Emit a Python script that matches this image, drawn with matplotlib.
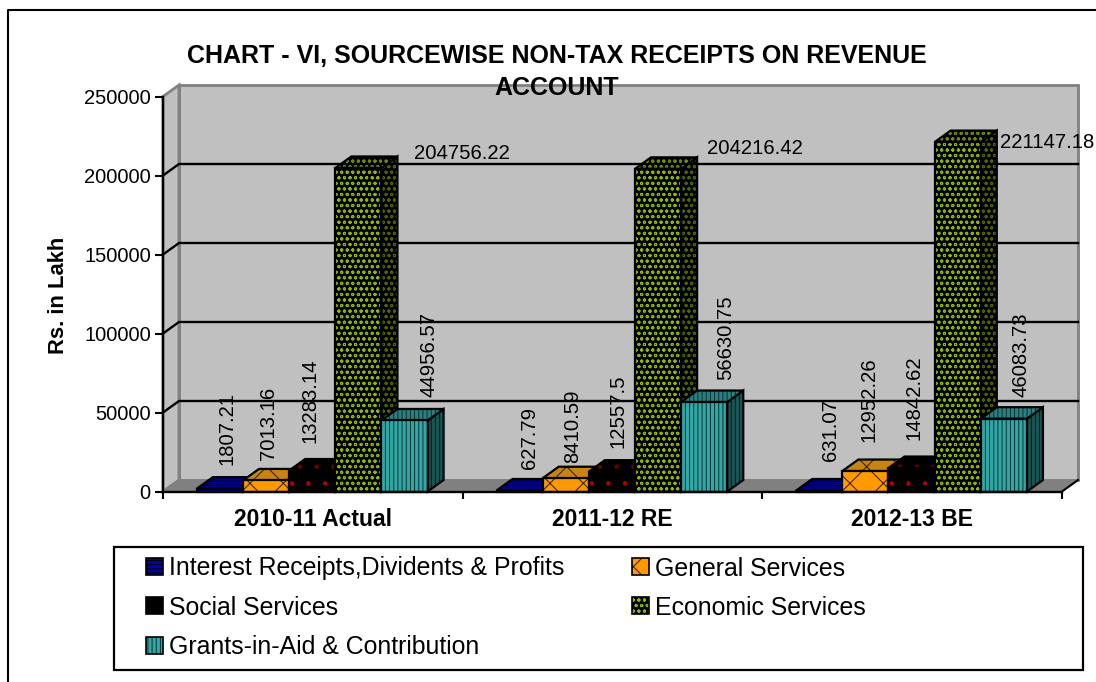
import matplotlib
matplotlib.use("Agg")
import matplotlib.pyplot as plt
from matplotlib.patches import Polygon, Patch, Rectangle
from matplotlib.legend_handler import HandlerTuple
from matplotlib.lines import Line2D

categories = ["2010-11 Actual", "2011-12 RE", "2012-13 BE"]
series_names = ["Interest Receipts,Dividents & Profits", "General Services",
                "Social Services", "Economic Services", "Grants-in-Aid & Contribution"]
interest = [1807.21, 627.79, 631.07]
general = [7013.16, 8410.59, 12952.26]
social = [13283.14, 12557.5, 14842.62]
economic = [204756.22, 204216.42, 221147.18]
grants = [44956.57, 56630.75, 46083.73]
label_text = [["1807.21", "627.79", "631.07"], ["7013.16", "8410.59", "12952.26"],
              ["13283.14", "12557.5", "14842.62"], ["204756.22", "204216.42", "221147.18"],
              ["44956.57", "56630.75", "46083.73"]]
yticks = [0, 50000, 100000, 150000, 200000, 250000]

W, H = 1096, 682
plt.rcParams["font.family"] = ["Liberation Sans", "DejaVu Sans"]
plt.rcParams["hatch.linewidth"] = 0.7
fig = plt.figure(figsize=(W / 100, H / 100), dpi=100)
L, R, T, B = 163, 1062, 96.5, 491.5
ax = fig.add_axes([L / W, 1 - B / H, (R - L) / W, (B - T) / H])
ax.set_xlim(0, 3)
ax.set_ylim(0, 250000)
ax.patch.set_visible(False)

dx = 16 / (R - L) * 3
dy = 11.5 / (B - T) * 250000
GRAY, WALL = "#808080", "#C0C0C0"

# outer frame
fig.add_artist(Line2D([7.5 / W, 7.5 / W, 1], [0, 1 - 9.5 / H, 1 - 9.5 / H], color="black", lw=1.5))

# walls and floor
ax.add_patch(Polygon([(dx, dy), (3 + dx, dy), (3 + dx, 250000 + dy), (dx, 250000 + dy)],
                     fc=WALL, ec=GRAY, lw=2, clip_on=False, zorder=1))
ax.add_patch(Polygon([(0, 0), (dx, dy), (dx, 250000 + dy), (0, 250000)],
                     fc=WALL, ec=GRAY, lw=2, clip_on=False, zorder=1))
ax.add_patch(Polygon([(0, 0), (dx, dy), (3 + dx, dy), (3, 0)],
                     fc=GRAY, ec=GRAY, lw=1, clip_on=False, zorder=1.1))
ax.plot([3, 3 + dx], [0, dy], color="black", lw=1.5, clip_on=False, zorder=1.2)
for v in yticks[1:-1]:
    ax.plot([0, dx, 3 + dx], [v, v + dy, v + dy], color="black", lw=1.7, clip_on=False, zorder=1.5,
            solid_joinstyle="miter")

# series: face, hatch colour, hatch, side face, side hatch colour, top face, top hatch colour
styles = [
    ("#0000B0", "black", "----", "#000060", "black", "#000080", "black"),
    ("#FF9900", "#301800", "x", "#B87000", "#301800", "#C88410", "#301800"),
    ("#000000", "#B00000", ".", "#000000", "#700000", "#000000", "#700000"),
    ("#000000", "#8FB800", "ooo", "#000000", "#4D6600", "#000000", "#6B8C00"),
    ("#33A6A6", "#0A3030", "||||", "#1A5555", "#051818", "#2A8080", "#0A3030"),
]
all_values = [interest, general, social, economic, grants]
BW, PAD = 0.154, 0.113


def face(pts, fc, hc, hatch, z):
    ax.add_patch(Polygon(pts, fc=fc, ec=hc, hatch=hatch, lw=0, clip_on=False, zorder=z))
    ax.add_patch(Polygon(pts, fc="none", ec="black", lw=1.6, clip_on=False, zorder=z + 0.01,
                         joinstyle="miter"))


z = 2
for c in range(len(categories)):
    for s, values in enumerate(all_values):
        fc, hc, hatch, sfc, shc, tfc, thc = styles[s]
        x0 = c + PAD + s * BW
        x1 = x0 + BW
        v = values[c]
        face([(x1, 0), (x1 + dx, dy), (x1 + dx, v + dy), (x1, v)], sfc, shc, hatch, z)
        face([(x0, v), (x1, v), (x1 + dx, v + dy), (x0 + dx, v + dy)], tfc, thc, hatch, z + 0.1)
        face([(x0, 0), (x1, 0), (x1, v), (x0, v)], fc, hc, hatch, z + 0.2)
        z += 0.5

# value labels: pixel offsets from the top centre of each bar
offsets = [[(7, 24), (10, 22), (11, 30)], [(2, 20), (7, 15), (4, 29)],
           [(-2, 28), (6, 24), (2, 28)], [(104, 14), (97, 20), (89, 0)],
           [(24, 23), (21, 22), (17, 22)]]
for s, values in enumerate(all_values):
    for c, v in enumerate(values):
        xc = c + PAD + (s + 0.5) * BW
        horiz = s == 3
        ax.annotate(label_text[s][c], (xc, v), xytext=offsets[s][c], textcoords="offset pixels",
                    ha="center", va="center" if horiz else "bottom",
                    rotation=0 if horiz else 90, fontsize=14.6, color="black",
                    zorder=30, annotation_clip=False)

# axes
for sp in ("top", "right"):
    ax.spines[sp].set_visible(False)
for sp in ("left", "bottom"):
    ax.spines[sp].set_linewidth(1.7)
    ax.spines[sp].set_zorder(20)
ax.set_yticks(yticks)
ax.set_yticklabels([str(v) for v in yticks])
ax.tick_params(axis="y", labelsize=14.5, length=5.8, width=1.5, pad=3)
ax.set_xticks(range(len(categories) + 1))
ax.set_xticklabels([])
ax.tick_params(axis="x", which="major", length=5, width=1.5)
ax.set_xticks([i + 0.5 for i in range(len(categories))], minor=True)
ax.set_xticklabels(categories, minor=True, fontsize=16.5, fontweight="bold")
ax.tick_params(axis="x", which="minor", length=0, pad=12)
fig.text(58 / W, 1 - 295 / H, "Rs. in Lakh", rotation=90, ha="center", va="center",
         fontsize=15.8, fontweight="bold")
fig.text(557 / W, 1 - 72 / H, "CHART - VI, SOURCEWISE NON-TAX RECEIPTS ON REVENUE\nACCOUNT",
         ha="center", va="center", fontsize=18, fontweight="bold", linespacing=1.4, zorder=40)

# legend
fig.add_artist(Rectangle((113.5 / W, 1 - 669.5 / H), 969 / W, 123 / H, fc="white", ec="black", lw=1.6,
                         transform=fig.transFigure))


def handle(s):
    fc, hc, hatch, *_ = styles[s]
    base = Patch(fc=fc, ec=hc, hatch=hatch if s != 2 else None, lw=0)
    edge = Patch(fc="none", ec="black", lw=1.2)
    return (base, edge)


order = [0, 2, 4, 1, 3]
leg = fig.legend([handle(i) for i in order], [series_names[i] for i in order], ncol=2,
                 loc="upper left", bbox_to_anchor=(146 / W, 1 - 556.5 / H), borderaxespad=0, borderpad=0,
                 frameon=False, fontsize=17.9, handlelength=0.68, handleheight=0.68, handletextpad=0.24,
                 columnspacing=2.74, labelspacing=0.61,
                 handler_map={tuple: HandlerTuple(ndivide=1, pad=0)})
leg.set_zorder(50)

fig.savefig("out.png", dpi=100)
